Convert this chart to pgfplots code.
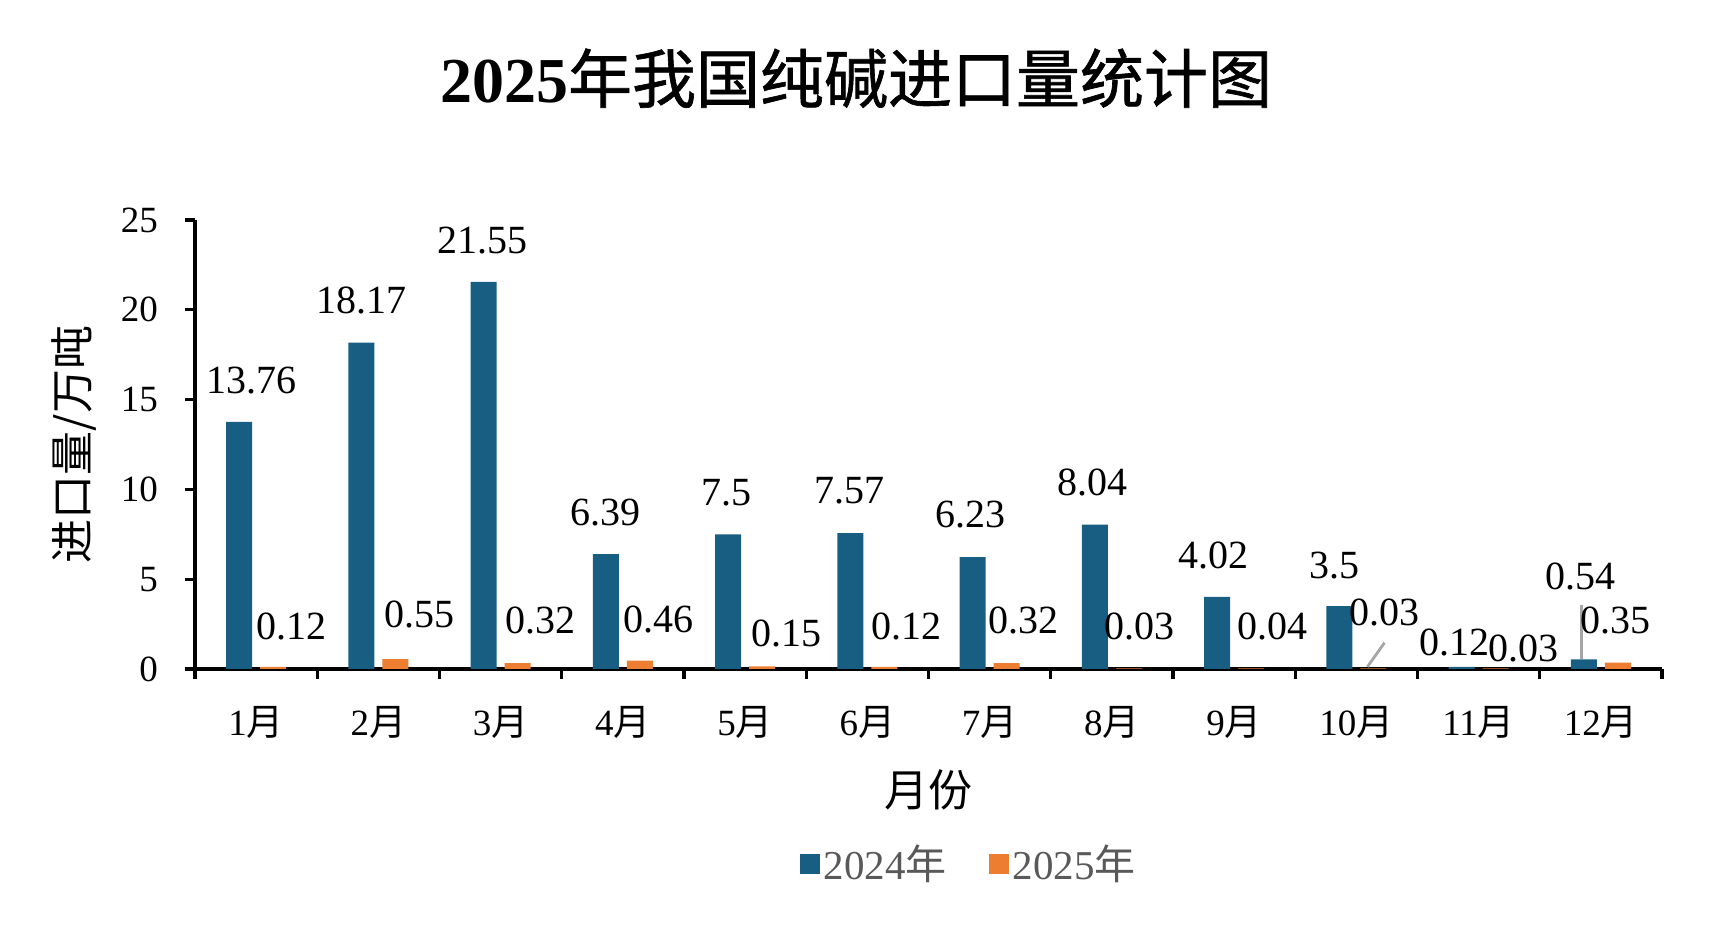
\documentclass[border=0pt]{standalone}
\usepackage{fontspec}
\setmainfont{Liberation Serif}
\newfontfamily\cjk{Noto Sans CJK SC}
\newfontfamily\cjkb[FakeBold=1.0]{Noto Sans CJK SC}
\usepackage{pgfplots}
\pgfplotsset{compat=1.18}
\definecolor{c24}{RGB}{23,94,130}
\definecolor{c25}{RGB}{237,125,49}
\definecolor{lg}{RGB}{89,89,89}
\definecolor{ld}{RGB}{166,166,166}
\newcommand{\yue}{{\cjk 月}}
\newcommand{\nian}{{\cjk 年}}
\newcommand{\lab}{\fontsize{20}{24}\selectfont}
\begin{document}
\begin{tikzpicture}
\useasboundingbox (-97.5pt,-138pt) rectangle (760pt,334.5pt);
\begin{axis}[
  at={(0,0)}, anchor=south west,
  scale only axis, width=733.5pt, height=224.5pt,
  ybar, bar width=13pt,
  xmin=-0.5, xmax=11.5, ymin=0, ymax=25,
  clip=false,
  axis lines=left,
  axis line style={-, line width=1.6pt, black},
  ytick={0,5,...,25},
  tick align=outside,
  major tick length=5pt,
  every tick/.style={black, line width=1.6pt},
  xtick={-0.5,0.5,...,11.5}, xticklabels={},
  extra x ticks={0,1,2,3,4,5,6,7,8,9,10,11},
  extra x tick labels={1\yue,2\yue,3\yue,4\yue,5\yue,6\yue,7\yue,8\yue,9\yue,10\yue,11\yue,12\yue},
  extra x tick style={major tick length=0pt},
  /pgf/number format/assume math mode=true,
  tick label style={font=\fontsize{18.5}{22}\selectfont, black},
  yticklabel style={xshift=-10pt},
  xticklabel style={yshift=-15pt},
  xlabel={\cjk 月份},
  xlabel style={at={(axis description cs:0.5,-0.27)}, anchor=center, font=\fontsize{22}{26}\selectfont},
  ylabel={\cjk 进口量/万吨},
  ylabel style={at={(axis description cs:-0.0825,0.5)}, anchor=center, font=\fontsize{22}{26}\selectfont},
  title={{\bfseries 2025}{\mdseries\cjkb 年我国纯碱进口量统计图}},
  title style={at={(axis description cs:0.4506,1.289)}, anchor=center, font=\fontsize{32}{38}\selectfont},
  legend style={at={(0.528,-0.434)}, anchor=center, draw=none, legend columns=2,
    font=\fontsize{20.5}{24}\selectfont, text=lg,
    /tikz/every even column/.append style={column sep=19pt}},
]
\addplot[fill=c24, draw=none, bar shift=-8.5pt,
  legend image code/.code={\fill[c24] (0pt,-5pt) rectangle (10pt,5pt);}]
  coordinates {(0,13.76) (1,18.17) (2,21.55) (3,6.39) (4,7.5) (5,7.57) (6,6.23) (7,8.04) (8,4.02) (9,3.5) (10,0.12) (11,0.54)};
\addlegendentry{2024\nian}
\addplot[fill=c25, draw=none, bar shift=8.5pt,
  legend image code/.code={\fill[c25] (0pt,-5pt) rectangle (10pt,5pt);}]
  coordinates {(0,0.12) (1,0.55) (2,0.32) (3,0.46) (4,0.15) (5,0.12) (6,0.32) (7,0.03) (8,0.04) (9,0.03) (10,0.03) (11,0.35)};
\addlegendentry{2025\nian}
\draw[ld, line width=1.4pt] (axis cs:9.09,0.12) -- (axis cs:9.23,1.46);
\draw[ld, line width=1.4pt] (axis cs:10.84,0.55) -- (axis cs:10.84,3.59);
\node[font=\lab] at (axis cs:-0.04,16.06) {13.76};
\node[font=\lab] at (axis cs:0.29,2.37) {0.12};
\node[font=\lab] at (axis cs:0.86,20.5) {18.17};
\node[font=\lab] at (axis cs:1.34,3.04) {0.55};
\node[font=\lab] at (axis cs:1.85,23.84) {21.55};
\node[font=\lab] at (axis cs:2.33,2.68) {0.32};
\node[font=\lab] at (axis cs:2.86,8.7) {6.39};
\node[font=\lab] at (axis cs:3.29,2.74) {0.46};
\node[font=\lab] at (axis cs:3.85,9.79) {7.5};
\node[font=\lab] at (axis cs:4.34,1.95) {0.15};
\node[font=\lab] at (axis cs:4.85,9.91) {7.57};
\node[font=\lab] at (axis cs:5.32,2.37) {0.12};
\node[font=\lab] at (axis cs:5.84,8.58) {6.23};
\node[font=\lab] at (axis cs:6.28,2.68) {0.32};
\node[font=\lab] at (axis cs:6.84,10.4) {8.04};
\node[font=\lab] at (axis cs:7.23,2.37) {0.03};
\node[font=\lab] at (axis cs:7.83,6.33) {4.02};
\node[font=\lab] at (axis cs:8.31,2.37) {0.04};
\node[font=\lab] at (axis cs:8.82,5.78) {3.5};
\node[font=\lab] at (axis cs:9.23,3.16) {0.03};
\node[font=\lab] at (axis cs:9.80,1.46) {0.12};
\node[font=\lab] at (axis cs:10.37,1.16) {0.03};
\node[font=\lab] at (axis cs:10.83,5.17) {0.54};
\node[font=\lab] at (axis cs:11.12,2.68) {0.35};
\end{axis}
\end{tikzpicture}
\end{document}
